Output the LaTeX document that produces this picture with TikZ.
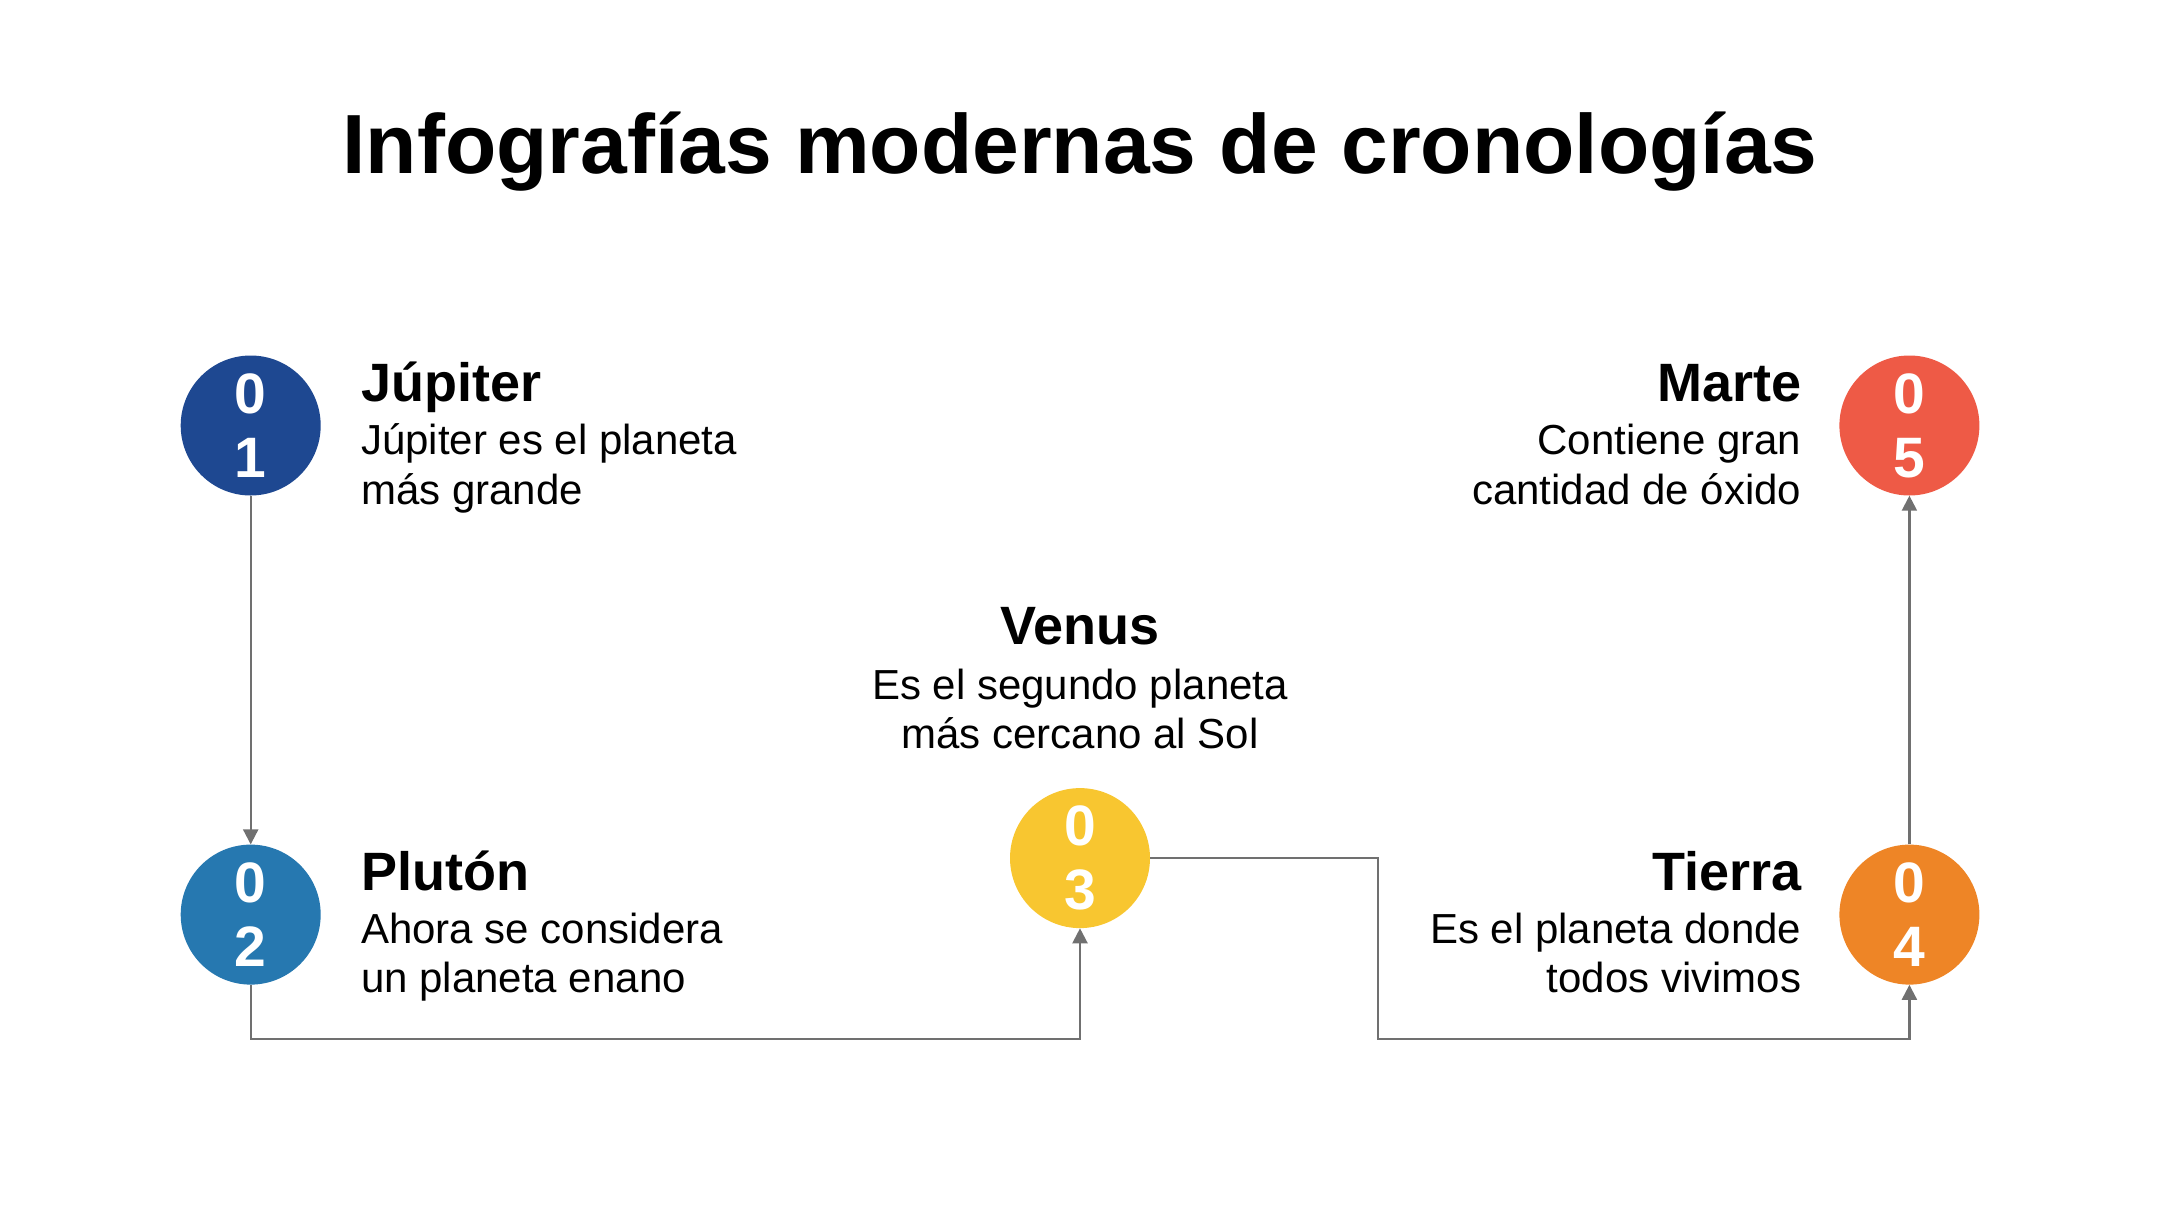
\documentclass[tikz,border=0pt]{standalone}
\usepackage{fontspec}
\setmainfont{Liberation Sans}
\usetikzlibrary{arrows.meta}
\definecolor{cone}{RGB}{30,72,145}
\definecolor{ctwo}{RGB}{38,120,176}
\definecolor{cthree}{RGB}{248,198,48}
\definecolor{cfour}{RGB}{238,133,38}
\definecolor{cfive}{RGB}{238,90,70}
\definecolor{lgray}{RGB}{112,112,112}
\begin{document}
\begin{tikzpicture}[x=1pt,y=-1pt,
  dot/.style={circle,minimum size=140pt,inner sep=0pt,text=white,align=center,
    font=\fontsize{57}{64}\selectfont\bfseries},
  head/.style={inner sep=0pt,font=\fontsize{54}{60}\selectfont\bfseries},
  body/.style={inner sep=0pt,font=\fontsize{42}{50}\selectfont},
  conn/.style={draw=lgray,line width=2.2pt,-{Triangle[width=15pt,length=15pt]}}]
\useasboundingbox (0,0) rectangle (2160,1215);
\node[inner sep=0pt,anchor=base,font=\fontsize{84}{90}\selectfont\bfseries] (title) at (1080,173.6) {Infografías modernas de cronologías};
% circles
\node[dot,fill=cone] (c1) at (250.7,425.5) {0\\1};
\node[dot,fill=ctwo] (c2) at (250.7,914.6) {0\\2};
\node[dot,fill=cthree] (c3) at (1080,858.1) {0\\3};
\node[dot,fill=cfour] (c4) at (1909.4,914.6) {0\\4};
\node[dot,fill=cfive] (c5) at (1909.4,425.5) {0\\5};
% texts
\node[head,anchor=base west] (h1) at (361,401) {Júpiter};
\node[body,anchor=base west] (b1a) at (361,454.6) {Júpiter es el planeta};
\node[body,anchor=base west] (b1b) at (361,504) {más grande};
\node[head,anchor=base west] (h2) at (361,890) {Plutón};
\node[body,anchor=base west] (b2a) at (361,943) {Ahora se considera};
\node[body,anchor=base west] (b2b) at (361,992.5) {un planeta enano};
\node[head,anchor=base] (h3) at (1080,644.7) {Venus};
\node[body,anchor=base] (b3a) at (1080,699) {Es el segundo planeta};
\node[body,anchor=base] (b3b) at (1080,748) {más cercano al Sol};
\node[head,anchor=base east] (h4) at (1801.5,890) {Tierra};
\node[body,anchor=base east] (b4a) at (1801.5,943) {Es el planeta donde};
\node[body,anchor=base east] (b4b) at (1801.5,992.5) {todos vivimos};
\node[head,anchor=base east] (h5) at (1801.5,401) {Marte};
\node[body,anchor=base east] (b5a) at (1801.5,454.6) {Contiene gran};
\node[body,anchor=base east] (b5b) at (1801.5,504) {cantidad de óxido};
% connectors
\coordinate (low) at (0,1038.7);
\coordinate (mid) at (1377.6,1038.7);
\draw[conn] (c1.south) -- (c2.north);
\draw[conn] (c2.south) -- (c2.south |- low) -| (c3.south);
\draw[conn] (c3.east) -| (mid) -| (c4.south);
\draw[conn] (c4.north) -- (c5.south);
\end{tikzpicture}
\end{document}
